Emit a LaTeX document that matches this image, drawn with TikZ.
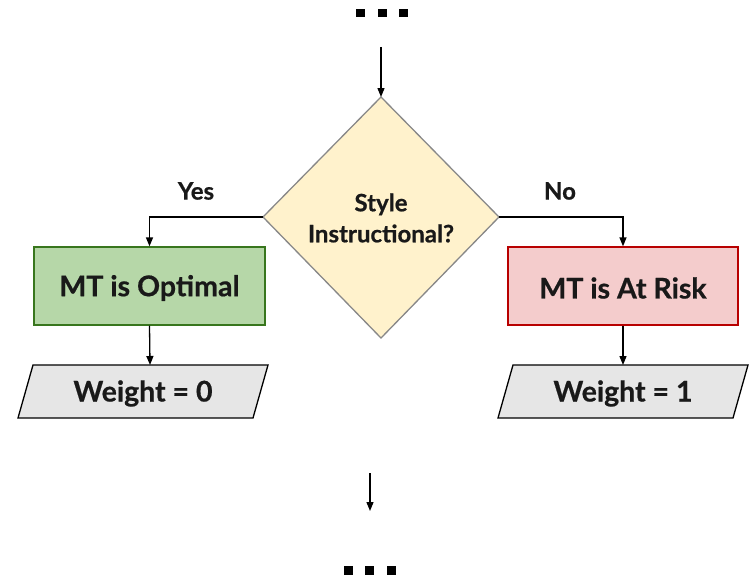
\documentclass[tikz,border=0pt]{standalone}
\usepackage{fontspec}
\setmainfont{Lato}[BoldFeatures={FakeBold=0.6}]
\usetikzlibrary{arrows.meta}
\definecolor{diafill}{HTML}{FFF2CC}
\definecolor{diadraw}{HTML}{888888}
\definecolor{gfill}{HTML}{B6D7A8}
\definecolor{gdraw}{HTML}{38761D}
\definecolor{rfill}{HTML}{F4CCCC}
\definecolor{rdraw}{HTML}{B80000}
\definecolor{pfill}{HTML}{E6E6E6}
\begin{document}
\begin{tikzpicture}[x=1pt,y=-1pt,
  conn/.style={draw=black,line width=1.3pt,-{Triangle[length=9pt,width=7pt]}},
  txt/.style={font=\bfseries\fontsize{28.5}{32}\selectfont,text=black!90},
  small/.style={font=\bfseries\fontsize{24}{32}\selectfont,text=black!90},
  dot/.style={fill=black}]
\useasboundingbox (0,0) rectangle (755,578);
% top dots
\fill[dot] (355.5,9.5) rectangle (364.5,17.5);
\fill[dot] (377.5,9.5) rectangle (386.5,17.5);
\fill[dot] (399,9.5) rectangle (408,17.5);
\coordinate (topin) at (381,47);
% diamond
\draw[fill=diafill,draw=diadraw,line width=1.3pt] (381,97) coordinate (dt) -- (499,217) coordinate (dr) -- (381,338) coordinate (db) -- (263,217) coordinate (dl) -- cycle;
\node[small,align=center] (q) at (381,218) {Style\\[-1pt]Instructional?};
\draw[conn] (topin) -- (dt);
% boxes
\node[draw=gdraw,fill=gfill,line width=1.3pt,minimum width=231pt,minimum height=78pt,inner sep=0pt] (opt) at (149.5,286) {};
\node[txt] (optt) at (149.5,288) {MT is Optimal};
\node[draw=rdraw,fill=rfill,line width=1.3pt,minimum width=230pt,minimum height=78pt,inner sep=0pt] (risk) at (623,286) {};
\node[txt] (riskt) at (623,288) {MT is At Risk};
% parallelograms
\draw[fill=pfill,draw=black,line width=1.3pt] (33,365) -- (268,365) -- (253,418) -- (18,418) -- cycle;
\node[txt] (w0) at (143,393.5) {Weight = 0};
\draw[fill=pfill,draw=black,line width=1.3pt] (513,365) -- (748,365) -- (733,418) -- (498,418) -- cycle;
\node[txt] (w1) at (623,393.5) {Weight = 1};
\coordinate (w0top) at (150,365);
\coordinate (w1top) at (623,365);
% connectors
\draw[conn] (dl) -| (opt.north);
\draw[conn] (dr) -| (risk.north);
\draw[conn] (opt.south) -- (w0top);
\draw[conn] (risk.south) -- (w1top);
\node[small] (yes) at (196,191) {Yes};
\node[small] (no) at (560,191) {No};
% bottom
\coordinate (b1) at (370,473);
\coordinate (b2) at (370,511);
\draw[conn] (b1) -- (b2);
\fill[dot] (343.5,565.5) rectangle (352.5,574.5);
\fill[dot] (365,565.5) rectangle (374,574.5);
\fill[dot] (387,565.5) rectangle (396,574.5);
\end{tikzpicture}
\end{document}
